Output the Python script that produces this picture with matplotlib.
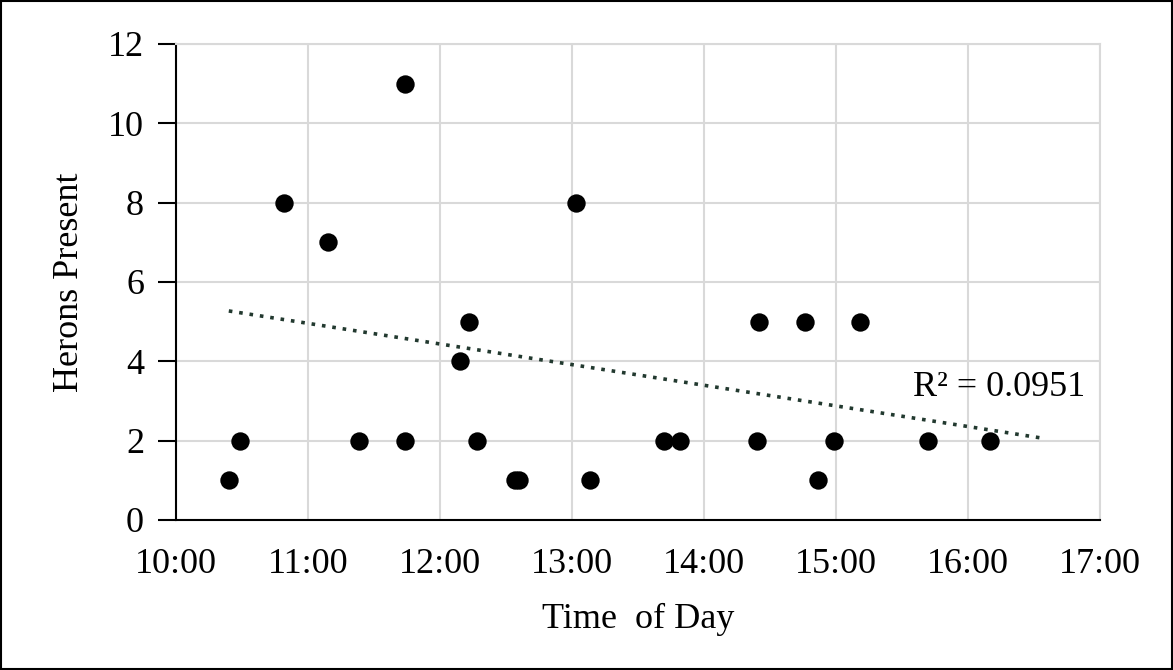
import matplotlib.pyplot as plt
import numpy as np

# observation times and heron counts
times = ['10:24', '10:29', '10:49', '11:09', '11:23', '11:44', '11:44', '12:09',
         '12:13', '12:17', '12:34', '12:36', '13:02', '13:08', '13:42', '13:49',
         '14:24', '14:25', '14:46', '14:52', '14:59', '15:11', '15:42', '16:10']
herons = [1, 2, 8, 7, 2, 11, 2, 4,
          5, 2, 1, 1, 8, 1, 2, 2,
          2, 5, 5, 1, 2, 5, 2, 2]
x_ticks = ['10:00', '11:00', '12:00', '13:00', '14:00', '15:00', '16:00', '17:00']

# linear trendline as drawn in the picture (start / end)
trend_times = ['10:24', '16:33']
trend_vals = [5.27, 2.07]

def to_hours(t):
    h, m = t.split(':')
    return int(h) + int(m) / 60.0

x = np.array([to_hours(t) for t in times])
y = np.array(herons, dtype=float)

plt.rcParams['font.family'] = ['Liberation Serif', 'DejaVu Serif']

fig = plt.figure(figsize=(11.73, 6.7), dpi=100)
ax = fig.add_axes([176 / 1173, 1 - 520 / 670, (1100 - 176) / 1173, (520 - 44) / 670])

# frame round the whole figure
fig.patches.append(plt.Rectangle((0.001, 0.001), 0.998, 0.997, transform=fig.transFigure,
                                 fill=False, edgecolor='black', linewidth=1.5))

ax.scatter(x, y, s=175, color='black', zorder=3, linewidths=0)

ax.plot([to_hours(t) for t in trend_times], trend_vals, linestyle=(0, (1, 1.9)),
        color='#22392f', linewidth=2.6, dash_capstyle='butt', zorder=2)
ax.text(16.886, 3.35, 'R² = 0.0951', fontsize=26, ha='right', va='center')

ax.set_xlim(10, 17)
ax.set_ylim(0, 12)
ax.set_xticks([to_hours(t) for t in x_ticks])
ax.set_xticklabels(x_ticks)
ax.set_yticks(range(0, 13, 2))
ax.tick_params(axis='both', labelsize=26)
ax.tick_params(axis='x', length=0, pad=20)
ax.tick_params(axis='y', length=13, width=1.5, pad=10)

ax.grid(True, color='#d9d9d9', linewidth=1.5)
ax.set_axisbelow(True)
for s in ['top', 'right']:
    ax.spines[s].set_color('#d9d9d9')
    ax.spines[s].set_linewidth(1.5)
ax.spines['left'].set_linewidth(1.5)
ax.spines['bottom'].set_linewidth(1.5)

ax.set_xlabel('Time  of Day', fontsize=26, labelpad=16)
ax.set_ylabel('Herons Present', fontsize=26, labelpad=16)

fig.savefig('out.png', dpi=100)
